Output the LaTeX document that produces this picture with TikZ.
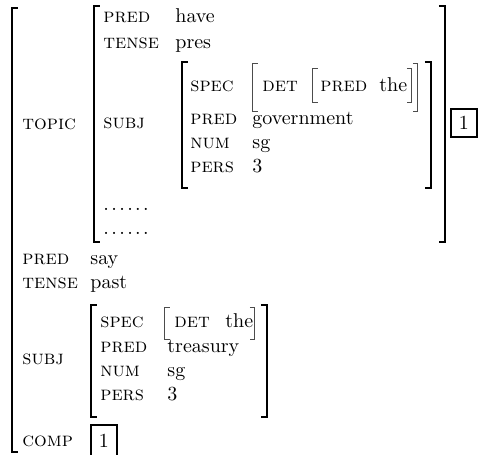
\documentclass[tikz,border=0pt]{standalone}
\newcommand{\rowdots}{.\kern1.2pt.\kern1.2pt.\kern1.2pt.\kern1.2pt.\kern1.2pt.}
\begin{document}
\begin{tikzpicture}[x=0.5pt, y=-0.5pt,
   lab/.style={anchor=base west, inner sep=0pt, font=\scshape},
   val/.style={anchor=base west, inner sep=0pt},
   tag/.style={draw, line width=0.6pt, inner sep=0pt, minimum width=13pt, minimum height=14pt},
   big/.style={line width=1pt},
   thin/.style={line width=0.5pt, black!70}]
   \useasboundingbox (0,0) rectangle (479,455);
   % outer matrix
   \draw[big] (18,8) -- (12,8) -- (12,452) -- (18,452);
   \node[lab] (topic) at (22,130) {topic};
   % value of topic
   \draw[big] (100,6) -- (94,6) -- (94,242) -- (100,242);
   \draw[big] (439,6) -- (445,6) -- (445,242) -- (439,242);
   \node[lab] (tpred) at (103,23) {pred};
   \node[val] (tpredv) at (175,23) {have};
   \node[lab] (ttense) at (103,48) {tense};
   \node[val] (ttensev) at (175,48) {pres};
   \node[lab] (tsubj) at (103,129) {subj};
   \node[val] (tdots1) at (103,211) {\rowdots};
   \node[val] (tdots2) at (103,235) {\rowdots};
   \node[tag] (ttag) at (464,123) {1};
   % subj of topic
   \draw[big] (188,62) -- (182,62) -- (182,188) -- (188,188);
   \draw[big] (425,62) -- (431,62) -- (431,188) -- (425,188);
   \node[lab] (sspec) at (190,92) {spec};
   \draw[thin] (258,64) -- (253,64) -- (253,112) -- (258,112);
   \draw[thin] (413,64) -- (418,64) -- (418,112) -- (413,112);
   \node[lab] (sdet) at (262,92) {det};
   \draw[thin] (318,69) -- (313,69) -- (313,103) -- (318,103);
   \draw[thin] (407,69) -- (412,69) -- (412,103) -- (407,103);
   \node[lab] (sdpred) at (320,92) {pred};
   \node[val] (sdpredv) at (379,92) {the};
   \node[lab] (spred) at (190,125) {pred};
   \node[val] (spredv) at (252,125) {government};
   \node[lab] (snum) at (190,149) {num};
   \node[val] (snumv) at (252,149) {sg};
   \node[lab] (spers) at (190,173) {pers};
   \node[val] (spersv) at (252,173) {3};
   % rest of outer matrix
   \node[lab] (pred) at (22,265) {pred};
   \node[val] (predv) at (90,265) {say};
   \node[lab] (tense) at (22,289) {tense};
   \node[val] (tensev) at (90,289) {past};
   \node[lab] (subj) at (22,365) {subj};
   \draw[big] (97,305) -- (91,305) -- (91,417) -- (97,417);
   \draw[big] (261,305) -- (267,305) -- (267,417) -- (261,417);
   \node[lab] (bspec) at (100,328) {spec};
   \draw[thin] (170,308) -- (165,308) -- (165,340) -- (170,340);
   \draw[thin] (250,308) -- (255,308) -- (255,340) -- (250,340);
   \node[lab] (bdet) at (174,328) {det};
   \node[val] (bdetv) at (225,328) {the};
   \node[lab] (bpred) at (100,353) {pred};
   \node[val] (bpredv) at (167,353) {treasury};
   \node[lab] (bnum) at (100,377) {num};
   \node[val] (bnumv) at (167,377) {sg};
   \node[lab] (bpers) at (100,401) {pers};
   \node[val] (bpersv) at (167,401) {3};
   \node[lab] (comp) at (22,447) {comp};
   \node[tag, minimum height=16pt] (ctag) at (104,441) {1};
\end{tikzpicture}
\end{document}
